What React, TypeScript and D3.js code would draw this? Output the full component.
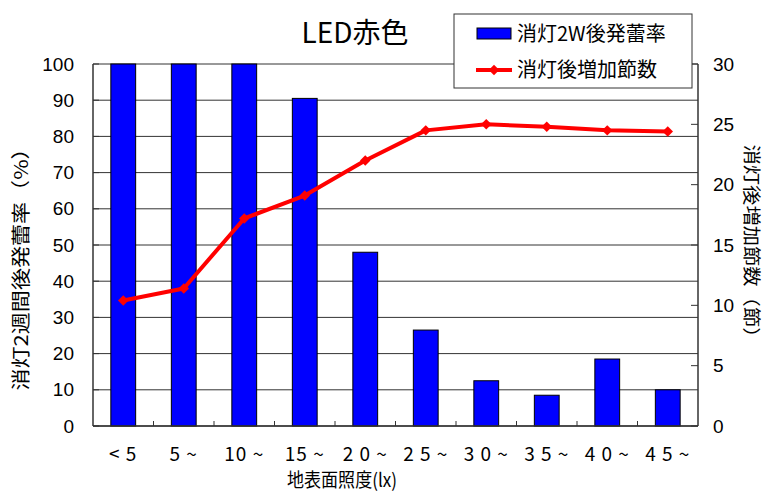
import React, { useEffect, useRef } from 'react';
import * as d3 from 'd3';

const categories = ['< 5', '5 ~', '10 ~', '15 ~', '2 0 ~', '2 5 ~', '3 0 ~', '3 5 ~', '4 0 ~', '4 5 ~'];
const budRate = [100, 100, 100, 90.5, 48, 26.5, 12.5, 8.5, 18.5, 10];
const nodeGain = [10.4, 11.4, 17.2, 19.1, 22.0, 24.5, 25.0, 24.8, 24.5, 24.4];
const leftTicks = [0, 10, 20, 30, 40, 50, 60, 70, 80, 90, 100];
const rightTicks = [0, 5, 10, 15, 20, 25, 30];

const JP = '"Noto Sans CJK JP", "Noto Sans", sans-serif';
const NUM = '"Liberation Sans", Arial, sans-serif';

const App = () => {
  const ref = useRef<SVGSVGElement>(null);

  useEffect(() => {
    const W = 766;
    const H = 493;
    const margin = { top: 64, right: 68, bottom: 67, left: 93 };
    const width = W - margin.left - margin.right;
    const height = H - margin.top - margin.bottom;

    const root = d3.select(ref.current);
    root.selectAll('*').remove();
    root.attr('width', W).attr('height', H);

    const svg = root.append('g').attr('transform', `translate(${margin.left},${margin.top})`);

    const x = d3.scaleBand().domain(categories).range([0, width]).padding(0);
    const y = d3.scaleLinear().domain([0, 100]).range([height, 0]);
    const y2 = d3.scaleLinear().domain([0, 30]).range([height, 0]);

    // gridlines
    svg
      .selectAll('.grid')
      .data(leftTicks)
      .enter()
      .append('line')
      .attr('x1', 0)
      .attr('x2', width)
      .attr('y1', (d) => y(d))
      .attr('y2', (d) => y(d))
      .attr('stroke', '#333')
      .attr('stroke-width', 1);

    // bars
    const bw = x.bandwidth() * 0.41;
    svg
      .selectAll('.bar')
      .data(budRate)
      .enter()
      .append('rect')
      .attr('x', (d, i) => x(categories[i])! + x.bandwidth() / 2 - bw / 2)
      .attr('y', (d) => y(d))
      .attr('width', bw)
      .attr('height', (d) => height - y(d))
      .attr('fill', '#0000ff')
      .attr('stroke', '#000')
      .attr('stroke-width', 1);

    // axes lines
    svg.append('line').attr('x1', 0).attr('x2', 0).attr('y1', 0).attr('y2', height).attr('stroke', '#333').attr('stroke-width', 1.5);
    svg.append('line').attr('x1', width).attr('x2', width).attr('y1', 0).attr('y2', height).attr('stroke', '#333').attr('stroke-width', 1.5);
    svg.append('line').attr('x1', 0).attr('x2', width).attr('y1', height).attr('y2', height).attr('stroke', '#333').attr('stroke-width', 1.5);

    // left ticks inside
    svg
      .selectAll('.lt')
      .data(leftTicks)
      .enter()
      .append('line')
      .attr('x1', 0)
      .attr('x2', 6)
      .attr('y1', (d) => y(d))
      .attr('y2', (d) => y(d))
      .attr('stroke', '#333');

    // right ticks inside
    svg
      .selectAll('.rt')
      .data(rightTicks)
      .enter()
      .append('line')
      .attr('x1', width - 7)
      .attr('x2', width)
      .attr('y1', (d) => y2(d))
      .attr('y2', (d) => y2(d))
      .attr('stroke', '#333');

    // bottom ticks at category boundaries
    svg
      .selectAll('.bt')
      .data(categories.slice(1))
      .enter()
      .append('line')
      .attr('x1', (d) => x(d)!)
      .attr('x2', (d) => x(d)!)
      .attr('y1', height)
      .attr('y2', height - 5)
      .attr('stroke', '#333');

    // tick labels
    svg
      .selectAll('.ll')
      .data(leftTicks)
      .enter()
      .append('text')
      .attr('x', -19)
      .attr('y', (d) => y(d))
      .attr('dy', '0.35em')
      .attr('text-anchor', 'end')
      .attr('font-family', NUM)
      .attr('font-size', 19)
      .text((d) => d);

    svg
      .selectAll('.rl')
      .data(rightTicks)
      .enter()
      .append('text')
      .attr('x', width + 15)
      .attr('y', (d) => y2(d))
      .attr('dy', '0.35em')
      .attr('text-anchor', 'start')
      .attr('font-family', NUM)
      .attr('font-size', 19)
      .text((d) => d);

    svg
      .selectAll('.xl')
      .data(categories)
      .enter()
      .append('text')
      .attr('x', (d) => x(d)! + x.bandwidth() / 2)
      .attr('y', height + 35)
      .attr('text-anchor', 'middle')
      .attr('font-family', JP)
      .attr('font-size', 19)
      .attr('letter-spacing', 1)
      .text((d) => d);

    // line series
    const line = d3
      .line<number>()
      .x((d, i) => x(categories[i])! + x.bandwidth() / 2)
      .y((d) => y2(d));

    svg
      .append('path')
      .datum(nodeGain)
      .attr('d', line)
      .attr('fill', 'none')
      .attr('stroke', '#ff0000')
      .attr('stroke-width', 4)
      .attr('stroke-linejoin', 'round');

    const diamond = d3.symbol().type(d3.symbolDiamond2).size(70);
    svg
      .selectAll('.pt')
      .data(nodeGain)
      .enter()
      .append('path')
      .attr('transform', (d, i) => `translate(${x(categories[i])! + x.bandwidth() / 2},${y2(d)})`)
      .attr('d', diamond)
      .attr('fill', '#ff0000');

    // axis titles
    root
      .append('text')
      .attr('transform', `translate(28,264) rotate(-90)`)
      .attr('text-anchor', 'middle')
      .attr('font-family', JP)
      .attr('font-size', 19)
      .attr('textLength', 253)
      .attr('lengthAdjust', 'spacingAndGlyphs')
      .text('消灯2週間後発蕾率（%）');

    root
      .append('text')
      .attr('transform', `translate(745,246) rotate(90)`)
      .attr('text-anchor', 'middle')
      .attr('font-family', JP)
      .attr('font-size', 18)
      .attr('textLength', 203)
      .attr('lengthAdjust', 'spacingAndGlyphs')
      .text('消灯後増加節数（節）');

    root
      .append('text')
      .attr('x', 342)
      .attr('y', 487)
      .attr('text-anchor', 'middle')
      .attr('font-family', JP)
      .attr('font-size', 19)
      .attr('textLength', 110)
      .attr('lengthAdjust', 'spacingAndGlyphs')
      .text('地表面照度(lx)');

    // title
    root
      .append('text')
      .attr('x', 355)
      .attr('y', 43)
      .attr('text-anchor', 'middle')
      .attr('font-family', JP)
      .attr('font-size', 28)
      .text('LED赤色');

    // legend
    const lg = root.append('g').attr('transform', 'translate(454,14)');
    lg.append('rect').attr('width', 238).attr('height', 74).attr('fill', '#fff').attr('stroke', '#333').attr('stroke-width', 1);
    lg.append('rect').attr('x', 23).attr('y', 14).attr('width', 34).attr('height', 11).attr('fill', '#0000ff').attr('stroke', '#000');
    lg.append('text').attr('x', 63).attr('y', 20).attr('dy', '0.35em').attr('font-family', JP).attr('font-size', 20).text('消灯2W後発蕾率');
    lg.append('line').attr('x1', 22).attr('x2', 58).attr('y1', 56).attr('y2', 56).attr('stroke', '#ff0000').attr('stroke-width', 4);
    lg.append('path').attr('transform', 'translate(40,56)').attr('d', diamond).attr('fill', '#ff0000');
    lg.append('text').attr('x', 63).attr('y', 56).attr('dy', '0.35em').attr('font-family', JP).attr('font-size', 20).text('消灯後増加節数');
  }, []);

  return <svg ref={ref} style={{ position: 'absolute', left: 0, top: 0 }} />;
};

export default App;
